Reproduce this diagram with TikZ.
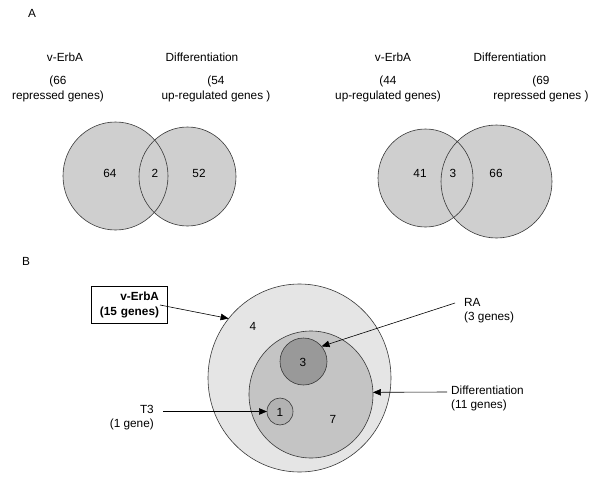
\documentclass[tikz,border=0pt]{standalone}
\usepackage{fontspec}
\setmainfont{Liberation Sans}
\usetikzlibrary{shapes.geometric,arrows.meta}
\definecolor{vennfill}{gray}{0.81}
\definecolor{bigfill}{gray}{0.90}
\definecolor{midfill}{gray}{0.77}
\definecolor{rafill}{gray}{0.60}
\definecolor{tthreefill}{gray}{0.70}
\definecolor{linec}{gray}{0.22}
\begin{document}
\begin{tikzpicture}[x=1pt,y=-1pt,
  every node/.style={font=\fontsize{11.8}{15}\selectfont},
  ring/.style={draw=linec, line width=0.6pt, inner sep=0pt, outer sep=0pt, ellipse},
  lab/.style={inner sep=0pt, align=center},
  side/.style={inner sep=0pt, font=\fontsize{11.8}{14.5}\selectfont},
  arr/.style={draw=black, line width=0.6pt, -{Triangle[length=8pt,width=6.5pt]}}]
\useasboundingbox (0,0) rectangle (600,479);

% ---------- Panel A ----------
\node[lab] (pa) at (32,13) {A};

% left Venn
\fill[vennfill] (115.5,176) ellipse [x radius=52.5pt, y radius=54pt];
\fill[vennfill] (187.5,176.5) ellipse [x radius=48.5pt, y radius=49.5pt];
\draw[linec, line width=0.6pt] (115.5,176) ellipse [x radius=52.5pt, y radius=54pt];
\draw[linec, line width=0.6pt] (187.5,176.5) ellipse [x radius=48.5pt, y radius=49.5pt];
\node[lab] (n64) at (110,173) {64};
\node[lab] (n2) at (155,173) {2};
\node[lab] (n52) at (199,173) {52};
\node[lab] (l1) at (65,57) {v-ErbA};
\node[lab] (l2) at (202,57) {Differentiation};
\node[lab] (l3) at (58,89) {(66\\repressed genes)};
\node[lab] (l4) at (216,89) {(54\\up-regulated genes )};

% right Venn
\fill[vennfill] (425.5,178) ellipse [x radius=47.5pt, y radius=49pt];
\fill[vennfill] (496.5,181.5) ellipse [x radius=55.5pt, y radius=56.5pt];
\draw[linec, line width=0.6pt] (425.5,178) ellipse [x radius=47.5pt, y radius=49pt];
\draw[linec, line width=0.6pt] (496.5,181.5) ellipse [x radius=55.5pt, y radius=56.5pt];
\node[lab] (n41) at (420,173) {41};
\node[lab] (n3) at (453,173) {3};
\node[lab] (n66) at (496,173) {66};
\node[lab] (r1) at (393,57) {v-ErbA};
\node[lab] (r2) at (510,57) {Differentiation};
\node[lab] (r3) at (388,89) {(44\\up-regulated genes)};
\node[lab] (r4) at (541,89) {(69\\repressed genes )};

% ---------- Panel B ----------
\node[lab] (pb) at (26,261) {B};

\node[ring, fill=bigfill, minimum width=183pt, minimum height=188pt] (big) at (299.5,378) {};
\node[ring, fill=midfill, minimum width=124pt, minimum height=127pt] (mid) at (311,394.5) {};
\node[ring, fill=rafill, minimum width=47pt, minimum height=47pt] (ra) at (303.5,361.5) {};
\node[ring, fill=tthreefill, minimum width=26pt, minimum height=27pt] (t3) at (280,411.5) {};

\node[lab] (c4) at (253,326) {4};
\node[lab] (c3) at (303,362) {3};
\node[lab] (c1) at (280,412) {1};
\node[lab] (c7) at (333,419) {7};

\node[draw=black, line width=0.6pt, text width=60pt, align=right, inner xsep=8pt,
      inner ysep=4pt, minimum height=37pt, font=\fontsize{11.8}{15}\selectfont\bfseries]
      (vbox) at (129,304.5) {v-ErbA\\(15 genes)};

\node[side, anchor=west, align=left] (ralab) at (464,310.5) {RA\\(3 genes)};
\node[side, anchor=west, align=left] (difflab) at (451,398.5) {Differentiation\\(11 genes)};
\node[side, anchor=east, align=right] (t3lab) at (154,417.5) {T3\\(1 gene)};

\coordinate (vstart) at (160,305);
\coordinate (rastart) at (455,303);
\coordinate (dstart) at (447,392);
\coordinate (tstart) at (163,411.5);

\draw[arr] (vstart) -- (big.140);
\draw[arr] (rastart) -- (ra.40);
\draw[arr] (dstart) -- (mid.2);
\draw[arr] (tstart) -- (t3.west);
\end{tikzpicture}
\end{document}
